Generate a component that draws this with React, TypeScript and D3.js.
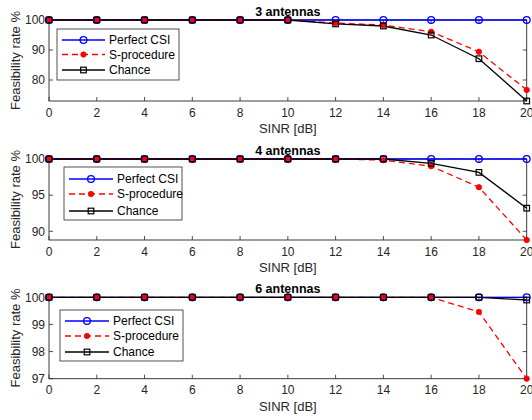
import React from "react";
import * as d3 from "d3";

const sinr = [0, 2, 4, 6, 8, 10, 12, 14, 16, 18, 20];
const xTicks = [0, 2, 4, 6, 8, 10, 12, 14, 16, 18, 20];

const perfect3 = [100, 100, 100, 100, 100, 100, 100, 100, 100, 100, 100];
const sproc3 = [100, 100, 100, 100, 100, 100, 99, 98.3, 96.1, 89.4, 76.7];
const chance3 = [100, 100, 100, 100, 100, 100, 98.7, 98, 95, 87.1, 73];

const perfect4 = [100, 100, 100, 100, 100, 100, 100, 100, 100, 100, 100];
const sproc4 = [100, 100, 100, 100, 100, 100, 100, 99.85, 99.0, 96.1, 88.8];
const chance4 = [100, 100, 100, 100, 100, 100, 100, 100, 99.4, 98.15, 93.2];

const perfect6 = [100, 100, 100, 100, 100, 100, 100, 100, 100, 100, 100];
const sproc6 = [100, 100, 100, 100, 100, 100, 100, 100, 100, 99.46, 97];
const chance6 = [100, 100, 100, 100, 100, 100, 100, 100, 100, 100, 99.9];

const titles = ["3 antennas", "4 antennas", "6 antennas"];
const yTicks3 = [80, 90, 100];
const yTicks4 = [90, 95, 100];
const yTicks6 = [97, 98, 99, 100];
const seriesNames = ["Perfect CSI", "S-procedure", "Chance"];

const FONT = "'Liberation Sans', Arial, sans-serif";
const AX = "#262626";

type PanelSpec = {
  title: string;
  top: number;
  bottom: number;
  ylim: [number, number];
  yTicks: number[];
  perfect: number[];
  sproc: number[];
  chance: number[];
  legend: { x0: number; x1: number; y0: number; y1: number; rows: number[]; lx0: number; lx1: number; tx: number };
};

const panels: PanelSpec[] = [
  {
    title: titles[0], top: 20, bottom: 101, ylim: [73, 100], yTicks: yTicks3,
    perfect: perfect3, sproc: sproc3, chance: chance3,
    legend: { x0: 57, x1: 179, y0: 29, y1: 80, rows: [40, 54.5, 70], lx0: 62, lx1: 105, tx: 109 },
  },
  {
    title: titles[1], top: 159, bottom: 240, ylim: [88.8, 100], yTicks: yTicks4,
    perfect: perfect4, sproc: sproc4, chance: chance4,
    legend: { x0: 64, x1: 182, y0: 167, y1: 220, rows: [179, 194, 211], lx0: 69, lx1: 113, tx: 117 },
  },
  {
    title: titles[2], top: 297.3, bottom: 378.7, ylim: [97, 100], yTicks: yTicks6,
    perfect: perfect6, sproc: sproc6, chance: chance6,
    legend: { x0: 60, x1: 183, y0: 310, y1: 361, rows: [321, 336, 352], lx0: 65, lx1: 109, tx: 113 },
  },
];

const LEFT = 49;
const RIGHT = 526.7;

const x = d3.scaleLinear().domain([0, 20]).range([LEFT, RIGHT]);

function Circle({ cx, cy }: { cx: number; cy: number }) {
  return <circle cx={cx} cy={cy} r={3.4} fill="none" stroke="#0000ff" strokeWidth={1.3} />;
}
function Dot({ cx, cy }: { cx: number; cy: number }) {
  return <circle cx={cx} cy={cy} r={2.7} fill="#ff0000" stroke="#ff0000" strokeWidth={0.8} />;
}
function Square({ cx, cy }: { cx: number; cy: number }) {
  return <rect x={cx - 2.8} y={cy - 2.8} width={5.6} height={5.6} fill="none" stroke="#000" strokeWidth={1.2} />;
}

function Panel({ p }: { p: PanelSpec }) {
  const y = d3.scaleLinear().domain(p.ylim).range([p.bottom, p.top]);
  const line = d3.line<number>().x((_, i) => x(sinr[i])).y((d) => y(d));
  const L = p.legend;
  const cx = x(10);
  return (
    <g>
      {xTicks.map((t) => (
        <g key={"xt" + t}>
          <line x1={x(t)} x2={x(t)} y1={p.bottom} y2={p.bottom - 4} stroke={AX} strokeWidth={0.8} />
          <line x1={x(t)} x2={x(t)} y1={p.top} y2={p.top + 4} stroke={AX} strokeWidth={0.8} />
          <text x={x(t)} y={p.bottom + 15.5} textAnchor="middle" fontSize={12} fill={AX} fontFamily={FONT}>
            {t}
          </text>
        </g>
      ))}
      {p.yTicks.map((t) => (
        <g key={"yt" + t}>
          <line x1={LEFT} x2={LEFT + 4} y1={y(t)} y2={y(t)} stroke={AX} strokeWidth={0.8} />
          <line x1={RIGHT} x2={RIGHT - 4} y1={y(t)} y2={y(t)} stroke={AX} strokeWidth={0.8} />
          <text x={45} y={y(t) + 4.3} textAnchor="end" fontSize={12} fill={AX} fontFamily={FONT}>
            {t}
          </text>
        </g>
      ))}
      <rect x={LEFT} y={p.top} width={RIGHT - LEFT} height={p.bottom - p.top} fill="none" stroke={AX} strokeWidth={0.9} />
      <path d={line(p.perfect) || ""} fill="none" stroke="#0000ff" strokeWidth={1.3} />
      <path d={line(p.sproc) || ""} fill="none" stroke="#ff0000" strokeWidth={1.3} strokeDasharray="6,4" />
      <path d={line(p.chance) || ""} fill="none" stroke="#000" strokeWidth={1.3} />
      {p.perfect.map((v, i) => <Circle key={"c" + i} cx={x(sinr[i])} cy={y(v)} />)}
      {p.sproc.map((v, i) => <Dot key={"d" + i} cx={x(sinr[i])} cy={y(v)} />)}
      {p.chance.map((v, i) => <Square key={"s" + i} cx={x(sinr[i])} cy={y(v)} />)}
      <text x={cx} y={p.top - 4} textAnchor="middle" fontSize={12.5} fontWeight="bold" fill="#000" fontFamily={FONT}>
        {p.title}
      </text>
      <text x={cx} y={p.bottom + 32} textAnchor="middle" fontSize={13} fill={AX} fontFamily={FONT}>
        SINR [dB]
      </text>
      <text
        transform={`translate(20,${(p.top + p.bottom) / 2}) rotate(-90)`}
        textAnchor="middle"
        fontSize={13}
        fill={AX}
        fontFamily={FONT}
      >
        Feasibility rate %
      </text>
      <rect x={L.x0} y={L.y0} width={L.x1 - L.x0} height={L.y1 - L.y0} fill="#fff" stroke={AX} strokeWidth={0.8} />
      <line x1={L.lx0} x2={L.lx1} y1={L.rows[0]} y2={L.rows[0]} stroke="#0000ff" strokeWidth={1.3} />
      <Circle cx={(L.lx0 + L.lx1) / 2} cy={L.rows[0]} />
      <line x1={L.lx0} x2={L.lx1} y1={L.rows[1]} y2={L.rows[1]} stroke="#ff0000" strokeWidth={1.3} strokeDasharray="6,4" />
      <Dot cx={(L.lx0 + L.lx1) / 2} cy={L.rows[1]} />
      <line x1={L.lx0} x2={L.lx1} y1={L.rows[2]} y2={L.rows[2]} stroke="#000" strokeWidth={1.3} />
      <Square cx={(L.lx0 + L.lx1) / 2} cy={L.rows[2]} />
      {seriesNames.map((n, i) => (
        <text key={n} x={L.tx} y={L.rows[i] + 4.3} fontSize={12} fill="#000" fontFamily={FONT}>
          {n}
        </text>
      ))}
    </g>
  );
}

export default function App() {
  return (
    <svg width={532} height={420} style={{ position: "absolute", left: 0, top: 0, background: "#fff" }}>
      <rect width={532} height={420} fill="#fff" />
      {panels.map((p) => (
        <Panel key={p.title} p={p} />
      ))}
    </svg>
  );
}
